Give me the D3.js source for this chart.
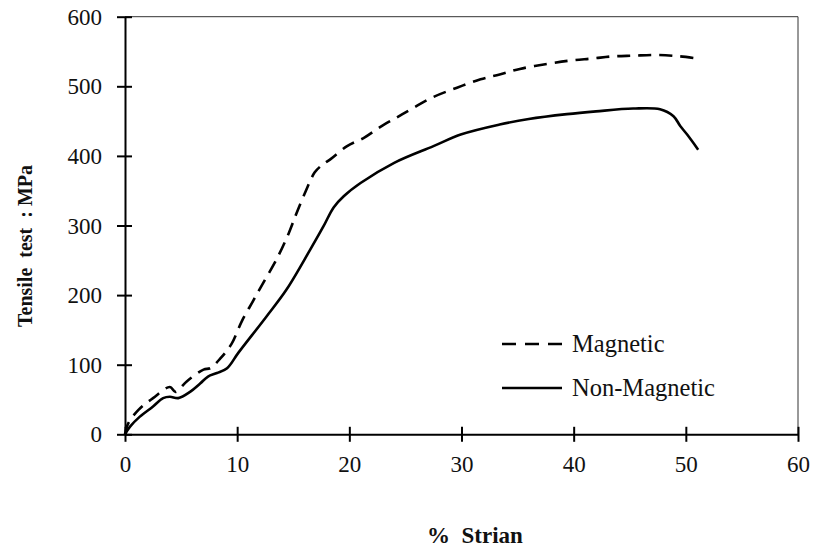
<!DOCTYPE html>
<html>
<head>
<meta charset="utf-8">
<script src="https://cdn.jsdelivr.net/npm/d3@7"></script>
<style>
  body { margin: 0; background: #fff; }
  text { font-family: "Liberation Serif", "Times New Roman", serif; fill: #111; }
</style>
</head>
<body>
<div id="chart"></div>
<script>
// strain (%) vs tensile stress (MPa)
var magStrain = [0, 0.3, 1.2, 2.5, 4, 4.5, 5.5, 7, 7.6, 8.5, 9.5, 10.4, 11.4, 12.3, 13.5, 14.6, 15.3, 16.1, 16.9, 17.5, 18.3, 19.8, 21.3, 22.7, 24.2, 25.7, 27.4, 29.6, 31.7, 33.4, 35.2, 37.6, 39.7, 41.7, 43.5, 45.3, 47.4, 49.5, 51]
var magStress = [0, 16, 35, 52, 68, 61, 76, 93, 95, 109, 130, 162, 191, 217, 251, 289, 318, 349, 376, 386, 395, 414, 426, 441, 455, 469, 484, 498, 510, 517, 525, 532, 537, 540, 543, 544, 545, 543, 540]

var nonStrain = [0, 0.45, 1.3, 2.5, 3.4, 4.0, 4.75, 5.8, 6.7, 7.4, 8.2, 9.1, 10.1, 12.6, 14.4, 16.5, 17.7, 18.6, 19.5, 21, 24, 27.5, 30, 33.4, 36, 39.4, 42, 45.3, 47.7, 48.9, 49.5, 50.1, 51.1]
var nonStress = [0, 11, 25, 40, 52, 54, 52, 61, 73, 83, 88, 95, 117, 169, 208, 265, 299, 326, 342, 361, 390, 414, 431, 445, 453, 460, 464, 468, 467, 457, 443, 431, 409]

var xTicks = [0, 10, 20, 30, 40, 50, 60]
var yTicks = [0, 100, 200, 300, 400, 500, 600]
var seriesNames = ["Magnetic", "Non-Magnetic"]

var width = 813, height = 548
var plotLeft = 125, plotRight = 798, plotTop = 16.7, plotBottom = 434.3

var svg = d3.select("#chart").append("svg")
  .attr("width", width)
  .attr("height", height)

var x = d3.scaleLinear().domain([0, 60]).range([plotLeft, plotRight])
var y = d3.scaleLinear().domain([0, 600]).range([plotBottom, plotTop])

// thin frame on top and right
svg.append("line")
  .attr("x1", plotLeft).attr("x2", plotRight).attr("y1", plotTop).attr("y2", plotTop)
  .attr("stroke", "#333").attr("stroke-width", 1)
svg.append("line")
  .attr("x1", plotRight).attr("x2", plotRight).attr("y1", plotTop).attr("y2", plotBottom)
  .attr("stroke", "#333").attr("stroke-width", 1)

// axes
var gx = svg.append("g")
  .attr("transform", "translate(0," + plotBottom + ")")
  .call(d3.axisBottom(x).tickValues(xTicks).tickSizeOuter(0))
var gy = svg.append("g")
  .attr("transform", "translate(" + plotLeft + ",0)")
  .call(d3.axisLeft(y).tickValues(yTicks).tickSizeOuter(0))

gx.select(".domain").attr("stroke", "#000").attr("stroke-width", 2)
gy.select(".domain").attr("stroke", "#000").attr("stroke-width", 2)
gx.selectAll(".tick line").attr("y1", -7.5).attr("y2", 7.5).attr("stroke", "#000").attr("stroke-width", 2)
gy.selectAll(".tick line").attr("x1", -8).attr("x2", 7).attr("stroke", "#000").attr("stroke-width", 2)
gx.selectAll(".tick text")
  .attr("y", 38).attr("dy", 0)
  .style("font-size", "23px")
  .style("font-family", "Liberation Serif")
  .attr("fill", "#111")
gy.selectAll(".tick text")
  .attr("x", -23).attr("dy", "0.33em")
  .style("font-size", "23px")
  .style("font-family", "Liberation Serif")
  .attr("fill", "#111")

// curves
var line = d3.line()
  .x(function(d) { return x(d[0]) })
  .y(function(d) { return y(d[1]) })
  .curve(d3.curveCatmullRom.alpha(0.5))

var magData = d3.zip(magStrain, magStress)
  , nonData = d3.zip(nonStrain, nonStress)

svg.append("path")
  .datum(magData)
  .attr("d", line)
  .attr("fill", "none")
  .attr("stroke", "#000")
  .attr("stroke-width", 2.6)
  .attr("stroke-dasharray", "13,8")

svg.append("path")
  .datum(nonData)
  .attr("d", line)
  .attr("fill", "none")
  .attr("stroke", "#000")
  .attr("stroke-width", 2.6)

// legend
var legend = svg.append("g").attr("transform", "translate(502,344)")
seriesNames.forEach(function(name, i) {
  var row = legend.append("g").attr("transform", "translate(0," + (i * 44) + ")")
  row.append("line")
    .attr("x1", 0).attr("x2", 60).attr("y1", 0).attr("y2", 0)
    .attr("stroke", "#000").attr("stroke-width", 2.6)
    .attr("stroke-dasharray", i === 0 ? "14,9" : null)
  row.append("text")
    .attr("x", 70).attr("y", 8)
    .style("font-size", "24.5px")
    .text(name)
})

// axis titles
svg.append("text")
  .attr("transform", "translate(32,246) rotate(-90)")
  .attr("text-anchor", "middle")
  .style("font-size", "20px")
  .style("font-weight", "bold")
  .attr("xml:space", "preserve")
  .text("Tensile  test  : MPa")

svg.append("text")
  .attr("x", 427).attr("y", 543)
  .style("font-size", "23px")
  .style("font-weight", "bold")
  .attr("xml:space", "preserve")
  .text("%  Strian")
</script>
</body>
</html>
